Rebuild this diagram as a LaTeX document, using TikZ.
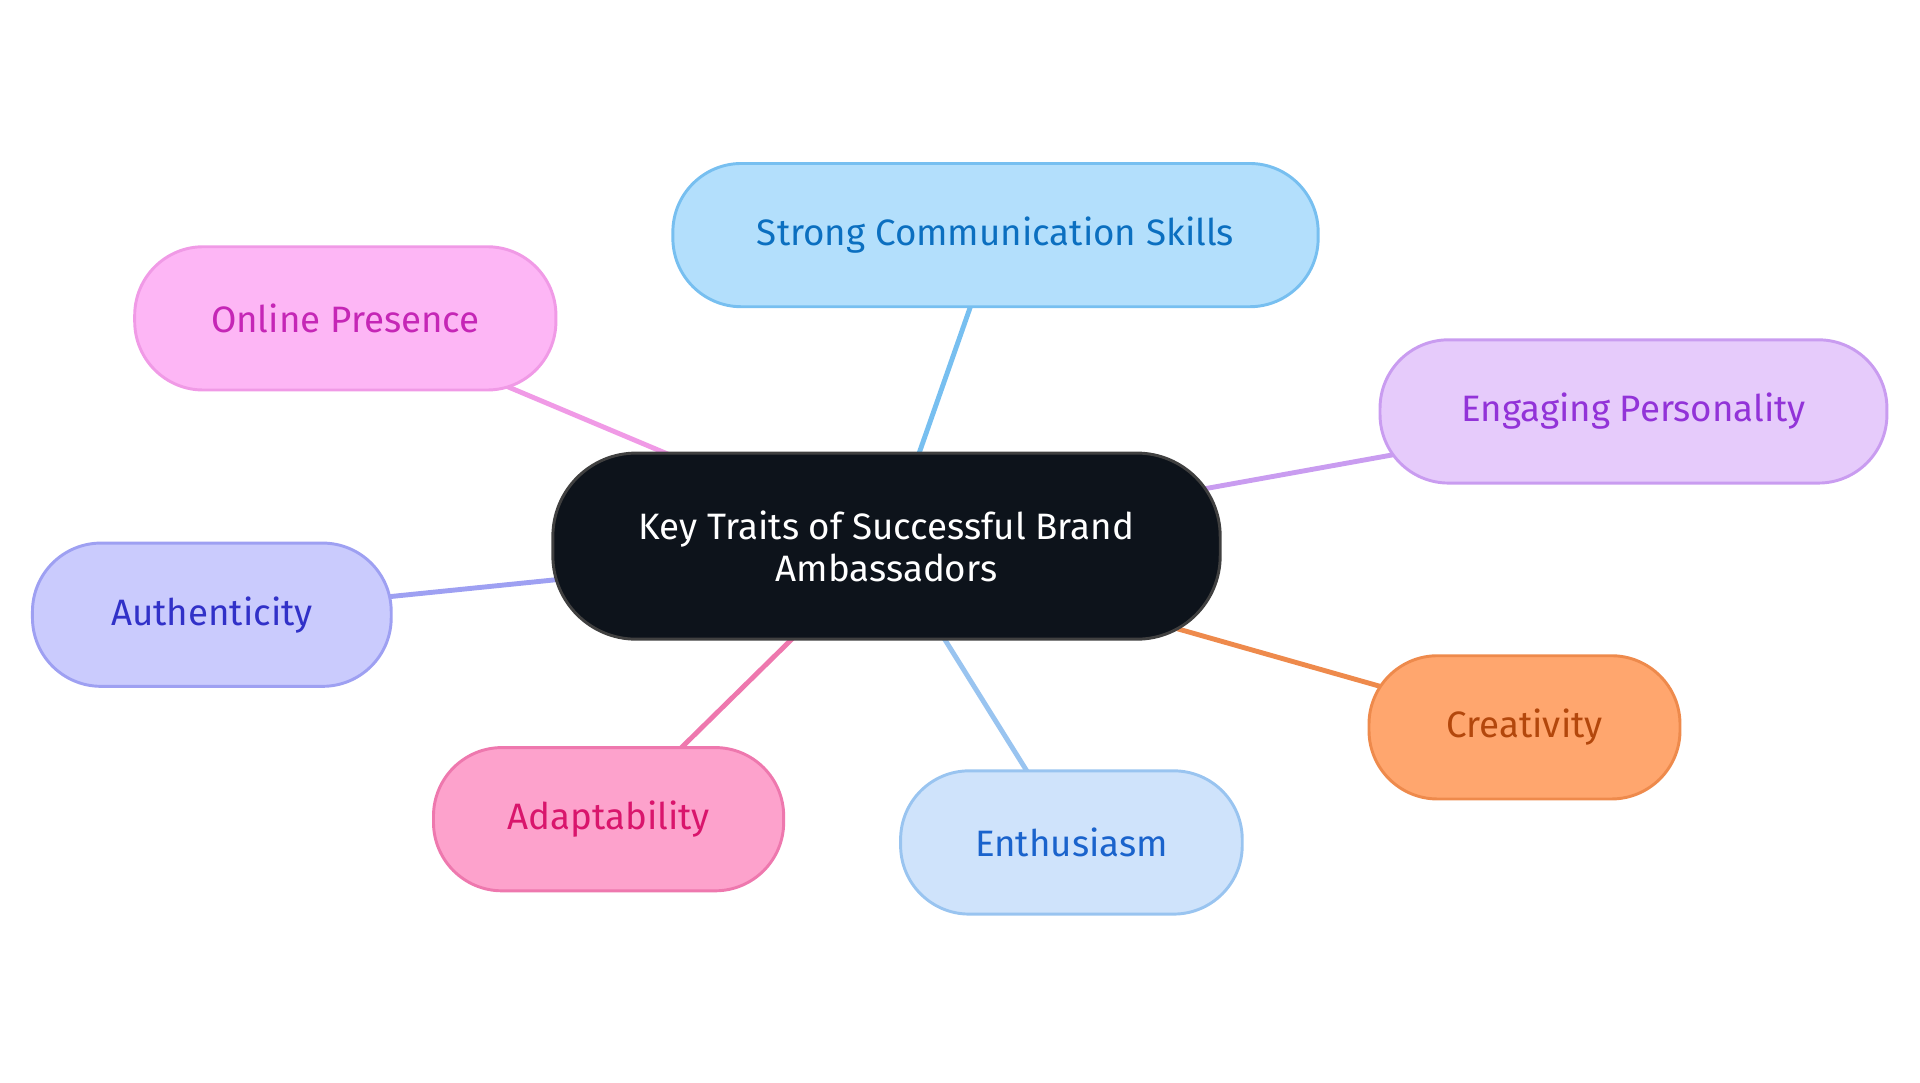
\documentclass[tikz,border=0pt]{standalone}
\usepackage{fontspec}
\setmainfont{Fira Sans}
\usetikzlibrary{backgrounds}
\definecolor{cbg}{HTML}{0D131B}
\definecolor{sF}{RGB}{179,223,252}\definecolor{sD}{RGB}{119,191,240}\definecolor{sT}{RGB}{11,111,192}
\definecolor{oF}{RGB}{253,182,245}\definecolor{oD}{RGB}{240,154,230}\definecolor{oT}{RGB}{197,38,182}
\definecolor{eF}{RGB}{230,203,251}\definecolor{eD}{RGB}{201,156,240}\definecolor{eT}{RGB}{146,51,216}
\definecolor{aF}{RGB}{202,203,253}\definecolor{aD}{RGB}{158,160,242}\definecolor{aT}{RGB}{49,49,200}
\definecolor{cF}{RGB}{255,166,110}\definecolor{cD}{RGB}{238,138,76}\definecolor{cT}{RGB}{179,71,12}
\definecolor{dF}{RGB}{253,162,204}\definecolor{dD}{RGB}{238,120,174}\definecolor{dT}{RGB}{217,21,108}
\definecolor{nF}{RGB}{207,227,251}\definecolor{nD}{RGB}{153,196,240}\definecolor{nT}{RGB}{26,99,204}
\tikzset{
 pill/.style={rounded corners=28pt, line width=1.2pt, minimum height=58.5pt, align=center, font=\fontsize{15}{17}\selectfont, inner sep=0pt},
 edge/.style={line width=2pt}
}
\begin{document}
\begin{tikzpicture}[x=0.5pt,y=-0.5pt]
\useasboundingbox (0,0) rectangle (1568,884);
\node[pill, fill=cbg, draw=black!75, text=white, minimum width=272.5pt, minimum height=76pt, rounded corners=34pt] (c) at (724,446) {Key Traits of Successful Brand\\Ambassadors};
\node[pill, fill=sF, draw=sD, text=sT, minimum width=263.5pt] (s) at (813,192) {Strong Communication Skills};
\node[pill, fill=oF, draw=oD, text=oT, minimum width=172pt] (o) at (282,260) {Online Presence};
\node[pill, fill=eF, draw=eD, text=eT, minimum width=207pt] (e) at (1334,336) {Engaging Personality};
\node[pill, fill=aF, draw=aD, text=aT, minimum width=146.5pt] (a) at (173,502) {Authenticity};
\node[pill, fill=cF, draw=cD, text=cT, minimum width=127pt] (cr) at (1245,594) {Creativity};
\node[pill, fill=dF, draw=dD, text=dT, minimum width=143pt] (ad) at (497,669) {Adaptability};
\node[pill, fill=nF, draw=nD, text=nT, minimum width=139.5pt] (en) at (875,688) {Enthusiasm};
\begin{pgfonlayer}{background}
\draw[edge, sD] (c.center) -- (s.center);
\draw[edge, oD] (c.center) -- (o.center);
\draw[edge, eD] (c.center) -- (e.center);
\draw[edge, aD] (c.center) -- (a.center);
\draw[edge, cD] (c.center) -- (cr.center);
\draw[edge, dD] (c.center) -- (ad.center);
\draw[edge, nD] (c.center) -- (en.center);
\end{pgfonlayer}
\end{tikzpicture}
\end{document}
